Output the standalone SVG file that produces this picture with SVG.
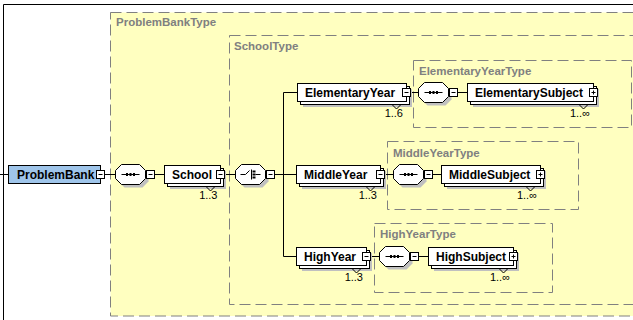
<svg xmlns="http://www.w3.org/2000/svg" xmlns:xlink="http://www.w3.org/1999/xlink" width="633" height="320" viewBox="0 0 633 320">
<style>
.type{fill:#ffffc0;stroke:#808080;stroke-width:1;stroke-dasharray:11 5}
.tlabel{font-family:"Liberation Sans",Arial,sans-serif;font-weight:bold;font-size:11.5px;fill:#808080}
.elabel{font-family:"Liberation Sans",Arial,sans-serif;font-weight:bold;font-size:12px;fill:#000}
.occ{font-family:"Liberation Sans",Arial,sans-serif;font-size:11px;fill:#000;text-anchor:end}
.front{fill:#fff;stroke:#000;stroke-width:1}
.back{fill:#fff;stroke:#000;stroke-width:1}
.shadow{fill:#c0c0c0;stroke:none}
.root{fill:#9fc5ea;stroke:#000;stroke-width:1}
.conn{stroke:#000;stroke-width:1;fill:none}
.notch{stroke:#000;stroke-width:1;fill:none}
.frame{stroke:#000;stroke-width:1;fill:none}
</style>
<defs>
<path id="oct" d="M6,0 H24 L30,6 V14 L24,20 H6 L0,14 V6 Z"/>
<g id="minus"><rect x="0" y="0" width="8" height="8" fill="#fff" stroke="#000"/><line x1="2" y1="4" x2="6" y2="4" stroke="#000"/></g>
<g id="plus"><rect x="0" y="0" width="8" height="8" fill="#fff" stroke="#000"/><line x1="2" y1="4" x2="6" y2="4" stroke="#000"/><line x1="4" y1="2" x2="4" y2="6" stroke="#000"/></g>
<g id="seq">
<use href="#oct" x="3" y="3" fill="#c0c0c0" stroke="none"/>
<use href="#oct" fill="#fff" stroke="#000"/>
<line x1="6" y1="10" x2="24" y2="10" stroke="#000"/>
<rect x="10.5" y="8.5" width="2" height="3" fill="#000"/>
<rect x="14" y="8.5" width="2" height="3" fill="#000"/>
<rect x="17.5" y="8.5" width="2" height="3" fill="#000"/>
</g>
<g id="choice">
<use href="#oct" x="3" y="3" fill="#c0c0c0" stroke="none"/>
<use href="#oct" fill="#fff" stroke="#000"/>
<polyline points="5,10 10,10 14,6" fill="none" stroke="#000"/>
<line x1="16" y1="5" x2="16" y2="15" stroke="#000"/>
<rect x="17" y="6" width="3" height="2" fill="#000"/>
<rect x="17" y="9" width="3" height="2" fill="#000"/>
<rect x="17" y="12" width="3" height="2" fill="#000"/>
<line x1="20" y1="10" x2="25" y2="10" stroke="#000"/>
</g>
</defs>

<rect x="0" y="0" width="633" height="320" fill="#fff"/>
<path class="frame" d="M3.5,320 V4.5 H633"/>

<g id="ProblemBankType">
<rect class="type" x="110.5" y="12.5" width="540" height="303.5"/>
<text class="tlabel" x="116" y="26">ProblemBankType</text>
</g>
<g id="SchoolType">
<rect class="type" x="229.5" y="35.5" width="420" height="269"/>
<text class="tlabel" x="234" y="50">SchoolType</text>
</g>
<g id="ElementaryYearType">
<rect class="type" x="413.5" y="60.5" width="218" height="67"/>
<text class="tlabel" x="419" y="75">ElementaryYearType</text>
</g>
<g id="MiddleYearType">
<rect class="type" x="387.5" y="141.5" width="191" height="68"/>
<text class="tlabel" x="393" y="157">MiddleYearType</text>
</g>
<g id="HighYearType">
<rect class="type" x="374.5" y="223.5" width="178" height="69"/>
<text class="tlabel" x="380" y="238">HighYearType</text>
</g>

<g id="connectors">
<line class="conn" x1="0" y1="174.5" x2="8.5" y2="174.5"/>
<line class="conn" x1="104.5" y1="174.5" x2="115.5" y2="174.5"/>
<line class="conn" x1="154.5" y1="174.5" x2="164.5" y2="174.5"/>
<line class="conn" x1="224.5" y1="174.5" x2="235.5" y2="174.5"/>
<line class="conn" x1="274.5" y1="174.5" x2="283.5" y2="174.5"/>
<line class="conn" x1="283.5" y1="92.5" x2="283.5" y2="256.5"/>
<line class="conn" x1="283.5" y1="92.5" x2="297.5" y2="92.5"/>
<line class="conn" x1="283.5" y1="174.5" x2="296.5" y2="174.5"/>
<line class="conn" x1="283.5" y1="256.5" x2="296.5" y2="256.5"/>
<line class="conn" x1="410.5" y1="92.5" x2="418.5" y2="92.5"/>
<line class="conn" x1="457.5" y1="92.5" x2="467.5" y2="92.5"/>
<line class="conn" x1="384.5" y1="174.5" x2="393.5" y2="174.5"/>
<line class="conn" x1="432.5" y1="174.5" x2="441.5" y2="174.5"/>
<line class="conn" x1="370.5" y1="256.5" x2="379.5" y2="256.5"/>
<line class="conn" x1="418.5" y1="256.5" x2="428.5" y2="256.5"/>
</g>

<g id="ProblemBank">
<rect class="root" x="8.5" y="165.5" width="92" height="18"/>
<text class="elabel" x="17" y="179">ProblemBank</text>
<use href="#minus" x="96.5" y="170.5"/>
</g>

<g id="seq-ProblemBankType">
<use href="#seq" x="115.5" y="164.5"/>
<use href="#minus" x="146.5" y="170.5"/>
</g>

<g id="School">
<rect class="shadow" x="170" y="171" width="56" height="18"/>
<rect class="back" x="167.5" y="168.5" width="56" height="18"/>
<rect class="front" x="164.5" y="165.5" width="56" height="18"/>
<text class="elabel" x="172" y="179">School</text>
<use href="#minus" x="216.5" y="170.5"/>
<polyline class="notch" points="206.5,187 210.5,191 214.5,187"/>
<text class="occ" x="217.5" y="199">1..3</text>
</g>

<g id="choice-SchoolType">
<use href="#choice" x="235.5" y="164.5"/>
<use href="#minus" x="266.5" y="170.5"/>
</g>

<g id="ElementaryYear">
<rect class="shadow" x="303" y="89" width="109" height="18"/>
<rect class="back" x="300.5" y="86.5" width="109" height="18"/>
<rect class="front" x="297.5" y="83.5" width="109" height="18"/>
<text class="elabel" x="305" y="97">ElementaryYear</text>
<use href="#minus" x="402.5" y="88.5"/>
<polyline class="notch" points="392.5,105 396.5,109 400.5,105"/>
<text class="occ" x="403" y="117">1..6</text>
</g>

<g id="seq-ElementaryYearType">
<use href="#seq" x="418.5" y="82.5"/>
<use href="#minus" x="449.5" y="88.5"/>
</g>

<g id="ElementarySubject">
<rect class="shadow" x="473" y="89" width="126" height="18"/>
<rect class="back" x="470.5" y="86.5" width="126" height="18"/>
<rect class="front" x="467.5" y="83.5" width="126" height="18"/>
<text class="elabel" x="475" y="97">ElementarySubject</text>
<use href="#plus" x="589.5" y="88.5"/>
<polyline class="notch" points="579.5,105 583.5,109 587.5,105"/>
<text class="occ" x="590" y="117">1..∞</text>
</g>

<g id="MiddleYear">
<rect class="shadow" x="302" y="171" width="84" height="18"/>
<rect class="back" x="299.5" y="168.5" width="84" height="18"/>
<rect class="front" x="296.5" y="165.5" width="84" height="18"/>
<text class="elabel" x="304" y="179">MiddleYear</text>
<use href="#minus" x="376.5" y="170.5"/>
<polyline class="notch" points="366.5,187 370.5,191 374.5,187"/>
<text class="occ" x="377" y="199">1..3</text>
</g>

<g id="seq-MiddleYearType">
<use href="#seq" x="393.5" y="164.5"/>
<use href="#minus" x="424.5" y="170.5"/>
</g>

<g id="MiddleSubject">
<rect class="shadow" x="447" y="171" width="99" height="18"/>
<rect class="back" x="444.5" y="168.5" width="99" height="18"/>
<rect class="front" x="441.5" y="165.5" width="99" height="18"/>
<text class="elabel" x="449" y="179">MiddleSubject</text>
<use href="#plus" x="536.5" y="170.5"/>
<polyline class="notch" points="526.5,187 530.5,191 534.5,187"/>
<text class="occ" x="537" y="199">1..∞</text>
</g>

<g id="HighYear">
<rect class="shadow" x="302" y="253" width="70" height="18"/>
<rect class="back" x="299.5" y="250.5" width="70" height="18"/>
<rect class="front" x="296.5" y="247.5" width="70" height="18"/>
<text class="elabel" x="304" y="261">HighYear</text>
<use href="#minus" x="362.5" y="252.5"/>
<polyline class="notch" points="352.5,269 356.5,273 360.5,269"/>
<text class="occ" x="363" y="281">1..3</text>
</g>

<g id="seq-HighYearType">
<use href="#seq" x="379.5" y="246.5"/>
<use href="#minus" x="410.5" y="252.5"/>
</g>

<g id="HighSubject">
<rect class="shadow" x="434" y="253" width="85" height="18"/>
<rect class="back" x="431.5" y="250.5" width="85" height="18"/>
<rect class="front" x="428.5" y="247.5" width="85" height="18"/>
<text class="elabel" x="436" y="261">HighSubject</text>
<use href="#plus" x="509.5" y="252.5"/>
<polyline class="notch" points="499.5,269 503.5,273 507.5,269"/>
<text class="occ" x="510" y="281">1..∞</text>
</g>
</svg>
